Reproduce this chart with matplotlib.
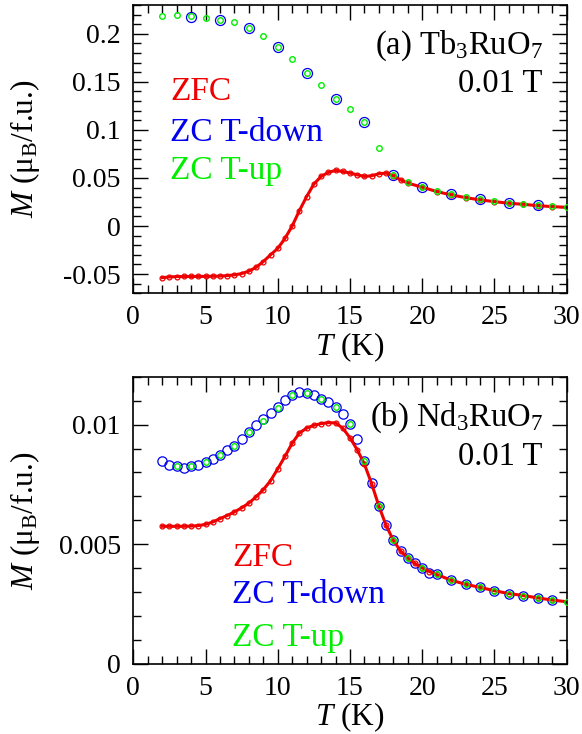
import matplotlib
matplotlib.use('Agg')
import matplotlib.pyplot as plt
from matplotlib.ticker import MultipleLocator, FuncFormatter

plt.rcParams['font.family'] = ['Liberation Serif', 'DejaVu Serif']
plt.rcParams['mathtext.fontset'] = 'custom'
plt.rcParams['mathtext.rm'] = 'Liberation Serif'
plt.rcParams['mathtext.it'] = 'Liberation Serif:italic'

RED = '#ee0000'
BLUE = '#0000ee'
GREEN = '#00ee00'

# (a) Tb3RuO7
T_zfc_a = [2, 2.5, 3, 3.5, 4, 4.5, 5, 5.5, 6, 6.5, 7, 7.5, 8, 8.5, 9, 9.5, 10,
           10.5, 11, 11.5, 12, 12.5, 13, 13.5, 14, 14.5, 15, 15.5, 16, 16.5,
           17, 17.5, 18, 18.5, 19, 20, 21, 22, 23, 24, 25, 26, 27, 28, 29, 30]
M_zfc_a = [-0.0537, -0.0530, -0.0526, -0.0525, -0.0525, -0.0524, -0.0524, -0.0523,
           -0.0521, -0.0516, -0.0508, -0.0495, -0.0470, -0.0430, -0.0370, -0.0300,
           -0.0233, -0.0129, 0.0, 0.016, 0.0306, 0.0436, 0.0516, 0.0558, 0.0579,
           0.0568, 0.0551, 0.0533, 0.0516, 0.0523, 0.0544, 0.0551, 0.0523, 0.0481,
           0.0447, 0.0404, 0.0359, 0.0324, 0.0296, 0.0272, 0.0254, 0.0237, 0.0226,
           0.0212, 0.0202, 0.0195]
T_down_a = [4, 6, 8, 10, 12, 14, 16, 18, 20, 22, 24, 26, 28]
M_down_a = [0.218, 0.2148, 0.2057, 0.1865, 0.1597, 0.1325, 0.108, 0.0526,
            0.0404, 0.0331, 0.0279, 0.0244, 0.022]
T_up_a = list(range(2, 31))
M_up_a = [0.219, 0.2197, 0.219, 0.2165, 0.2148, 0.212, 0.2057, 0.198, 0.1865,
          0.1736, 0.1597, 0.1464, 0.1325, 0.1213, 0.108, 0.0813, 0.0526, 0.0453,
          0.0404, 0.0366, 0.0331, 0.030, 0.0279, 0.0258, 0.0244, 0.023, 0.022,
          0.021, 0.0195]

# (b) Nd3RuO7
T_zfc_b = [2, 2.5, 3, 3.5, 4, 4.5, 5, 5.5, 6, 6.5, 7, 7.5, 8, 8.5, 9, 9.5, 10,
           10.5, 11, 11.5, 12, 12.5, 13, 13.5, 14, 14.5, 15, 15.5, 16, 16.5,
           17, 17.5, 18, 18.5, 19, 19.5, 20, 20.5, 21, 22, 23, 24, 25, 26, 27,
           28, 29, 30]
M_zfc_b = [0.00575, 0.00575, 0.00575, 0.00575, 0.00576, 0.00578, 0.00583, 0.00593,
           0.00607, 0.0062, 0.00635, 0.00652, 0.00672, 0.00698, 0.00728, 0.00765,
           0.00815, 0.00867, 0.00922, 0.00965, 0.00985, 0.00997, 0.01004, 0.01008,
           0.01007, 0.00985, 0.00945, 0.00895, 0.00835, 0.00753, 0.0066, 0.00579,
           0.00517, 0.00472, 0.00443, 0.0042, 0.00401, 0.00386, 0.00374, 0.0035,
           0.00333, 0.0032, 0.00306, 0.00294, 0.00286, 0.00276, 0.00267, 0.0026]
T_down_b = [2, 2.5, 3, 3.5, 4, 4.5, 5, 5.5, 6, 6.5, 7, 7.5, 8, 8.5, 9, 9.5, 10,
            10.5, 11, 11.5, 12, 12.5, 13, 13.5, 14, 14.5, 15, 15.5, 16, 16.5,
            17, 17.5, 18, 18.5, 19, 19.5, 20, 20.5, 21, 22, 23, 24, 25, 26, 27,
            28, 29]
M_down_b = [0.00846, 0.00832, 0.00829, 0.0082, 0.00826, 0.00832, 0.00843, 0.00857,
            0.00871, 0.00892, 0.00912, 0.0094, 0.00968, 0.00999, 0.01024, 0.0105,
            0.01072, 0.01103, 0.01124, 0.01138, 0.01133, 0.01124, 0.01106, 0.01096,
            0.01075, 0.01045, 0.01001, 0.00939, 0.00846, 0.00756, 0.0066, 0.00579,
            0.00517, 0.00472, 0.00443, 0.00422, 0.00401, 0.0038, 0.00374, 0.0035,
            0.00333, 0.0032, 0.00306, 0.00294, 0.00285, 0.00275, 0.00267]
T_up_b = list(range(3, 31))
M_up_b = [0.00829, 0.00829, 0.00843, 0.00871, 0.00912, 0.00968, 0.01017, 0.01068,
          0.01124, 0.01133, 0.01106, 0.01075, 0.01001, 0.00847, 0.0066, 0.00517,
          0.00443, 0.00401, 0.00374, 0.0035, 0.00333, 0.0032, 0.00306, 0.00294,
          0.00285, 0.00276, 0.00267, 0.0026]


def style_axis(ax, ylim, ymaj, ymin):
    ax.set_xlim(0, 30)
    ax.set_ylim(*ylim)
    ax.xaxis.set_major_locator(MultipleLocator(5))
    ax.xaxis.set_minor_locator(MultipleLocator(1))
    ax.yaxis.set_major_locator(MultipleLocator(ymaj))
    ax.yaxis.set_minor_locator(MultipleLocator(ymin))
    ax.yaxis.set_major_formatter(FuncFormatter(lambda v, p: '%g' % round(v, 6)))
    ax.xaxis.set_major_formatter(FuncFormatter(lambda v, p: '%g' % v))
    ax.tick_params(which='both', direction='in', top=True, right=True,
                   labelsize=20, width=1.0)
    ax.tick_params(which='major', length=11)
    ax.tick_params(which='minor', length=5.5)
    ax.tick_params(axis='x', pad=8.5)
    ax.tick_params(axis='y', pad=9)
    for s in ax.spines.values():
        s.set_linewidth(1.2)
    ax.set_xlabel(r'$T$ (K)', fontsize=22.5, labelpad=0)
    ax.set_ylabel(r'$M$ (μ$_{\rm B}$/f.u.)', fontsize=22.5)
    ax.yaxis.set_label_coords(-0.21, 0.5)


fig = plt.figure(figsize=(5.82, 7.34), dpi=100)
ax1 = fig.add_axes([0.229, 0.6004, 0.7446, 0.3928])
ax2 = fig.add_axes([0.229, 0.0954, 0.7446, 0.3914])

# panel a
ax1.plot(T_down_a, M_down_a, 'o', mfc='none', mec=BLUE, ms=7.2, mew=0.9, zorder=1)
ax1.plot(T_zfc_a, M_zfc_a, '-o', color=RED, lw=2.2, mfc='none', mec=RED, ms=3.5,
         mew=0.9, zorder=2)
ax1.plot(T_up_a, M_up_a, 'o', mfc='none', mec=GREEN, ms=4.0, mew=1.0, zorder=3)
style_axis(ax1, (-0.07, 0.23), 0.05, 0.01)
ax1.text(0.945, 0.86, r'(a) Tb$_3$RuO$_7$', transform=ax1.transAxes,
         ha='right', va='center', fontsize=23.5)
ax1.text(0.945, 0.728, '0.01 T', transform=ax1.transAxes,
         ha='right', va='center', fontsize=23.5)
ax1.text(0.085, 0.70, 'ZFC', color=RED, transform=ax1.transAxes,
         ha='left', va='center', fontsize=24)
ax1.text(0.085, 0.558, 'ZC T-down', color=BLUE, transform=ax1.transAxes,
         ha='left', va='center', fontsize=24)
ax1.text(0.085, 0.425, 'ZC T-up', color=GREEN, transform=ax1.transAxes,
         ha='left', va='center', fontsize=24)

# panel b
ax2.plot(T_down_b, M_down_b, 'o', mfc='none', mec=BLUE, ms=6.7, mew=0.9, zorder=1)
ax2.plot(T_zfc_b, M_zfc_b, '-o', color=RED, lw=2.2, mfc='none', mec=RED, ms=3.5,
         mew=0.9, zorder=2)
ax2.plot(T_up_b, M_up_b, 'o', mfc='none', mec=GREEN, ms=4.0, mew=1.0, zorder=3)
style_axis(ax2, (0, 0.012), 0.005, 0.001)
ax2.text(0.945, 0.857, r'(b) Nd$_3$RuO$_7$', transform=ax2.transAxes,
         ha='right', va='center', fontsize=23.5)
ax2.text(0.945, 0.722, '0.01 T', transform=ax2.transAxes,
         ha='right', va='center', fontsize=23.5)
ax2.text(0.228, 0.37, 'ZFC', color=RED, transform=ax2.transAxes,
         ha='left', va='center', fontsize=24)
ax2.text(0.228, 0.24, 'ZC T-down', color=BLUE, transform=ax2.transAxes,
         ha='left', va='center', fontsize=24)
ax2.text(0.228, 0.09, 'ZC T-up', color=GREEN, transform=ax2.transAxes,
         ha='left', va='center', fontsize=24)

fig.savefig('out.png', dpi=100)
